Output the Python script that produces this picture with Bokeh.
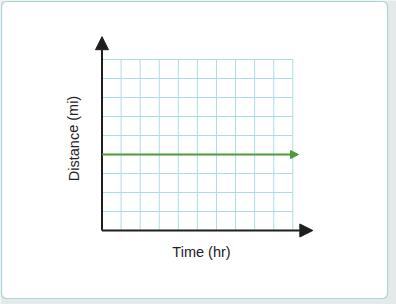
from bokeh.plotting import figure
from bokeh.models import Range1d, Arrow, NormalHead, Label, BoxAnnotation
from bokeh.embed import file_html
from bokeh.resources import INLINE

# Data (grid units)
x_ticks = list(range(0, 11))   # 10 columns of hours
y_ticks = list(range(0, 10))   # 9 rows of miles
line_x = [0, 10.3]             # constant-distance line
line_y = [4, 4]
x_axis_end = 11.05
y_axis_end = 10.2

W, H = 396, 304
PX = 19.08   # px per x unit
PY = 19.0    # px per y unit
X0PX, Y0PX = 101.5, 230.0

def dx(px):
    return (px - X0PX) / PX

def dy(py):
    return (Y0PX - py) / PY

p = figure(width=W, height=H, output_backend="svg", toolbar_location=None,
           x_range=Range1d(dx(0), dx(W)), y_range=Range1d(dy(H), dy(0)),
           min_border=0, x_axis_type=None, y_axis_type=None)
p.grid.visible = False
p.outline_line_color = None
p.background_fill_color = "#e5e9ea"
p.border_fill_color = "#e5e9ea"

# card
card = BoxAnnotation(left=dx(1), right=dx(387), top=dy(1), bottom=dy(298),
                     fill_color="white", fill_alpha=1.0,
                     line_color="#a9d5d8", line_alpha=1.0, line_width=1.2,
                     border_radius=5, level="underlay")
p.add_layout(card)

# grid
grid_color = "#acdcea"
p.segment(x0=x_ticks, y0=[y_ticks[0]] * len(x_ticks),
          x1=x_ticks, y1=[y_ticks[-1]] * len(x_ticks),
          line_color=grid_color, line_width=1)
p.segment(x0=[x_ticks[0]] * len(y_ticks), y0=y_ticks,
          x1=[x_ticks[-1]] * len(y_ticks), y1=y_ticks,
          line_color=grid_color, line_width=1)

# axes with arrows
ax_col = "#1e1e1e"
p.add_layout(Arrow(x_start=0, y_start=0, x_end=x_axis_end, y_end=0,
                   line_color=ax_col, line_width=2,
                   end=NormalHead(size=13, fill_color=ax_col, line_color=ax_col)))
p.add_layout(Arrow(x_start=0, y_start=0, x_end=0, y_end=y_axis_end,
                   line_color=ax_col, line_width=2,
                   end=NormalHead(size=13, fill_color=ax_col, line_color=ax_col)))

# green line
gcol = "#4f9a3a"
p.add_layout(Arrow(x_start=line_x[0], y_start=line_y[0], x_end=line_x[1], y_end=line_y[1],
                   line_color=gcol, line_width=2,
                   end=NormalHead(size=8, fill_color=gcol, line_color=gcol)))

# labels
p.add_layout(Label(x=dx(201), y=dy(251), text="Time (hr)", text_align="center",
                   text_baseline="middle", text_font="Liberation Sans",
                   text_font_size="14.5px", text_color="#222222"))
p.add_layout(Label(x=dx(73), y=dy(138), text="Distance (mi)", text_align="center",
                   text_baseline="middle", angle=1.5708, text_font="Liberation Sans",
                   text_font_size="14.5px", text_color="#222222"))

open("out.html", "w").write(file_html(p, INLINE))
